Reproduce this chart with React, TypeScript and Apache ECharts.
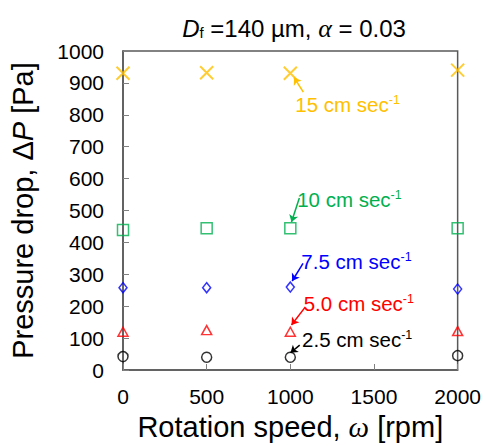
import React, { useEffect, useRef } from "react";
import * as echarts from "echarts";

const rpm = [0, 500, 1000, 2000];
const v15 = [930, 932, 930, 940];
const v10 = [439, 444, 444, 444];
const v75 = [258, 258, 260, 254];
const v50 = [120, 125, 120, 122];
const v25 = [42, 40, 40, 45];

const seriesNames = ["15 cm sec", "10 cm sec", "7.5 cm sec", "5.0 cm sec", "2.5 cm sec"];
const seriesColors = ["#FFC000", "#00B050", "#0000FF", "#FF0000", "#000000"];
// annotation label anchor (left-middle of text), arrow start and arrow end, in data units
const labelAt: [number, number][] = [[1030, 831], [1041, 536], [1066, 340], [1080, 207], [1070, 97]];
const arrowFrom: [number, number][] = [[1078, 871], [1054, 539], [1076, 334], [1090, 198], [1056, 78]];
const arrowTo: [number, number][] = [[1022, 917], [1007, 464], [1011, 279], [1007, 141], [1001, 54]];

const FONT = "'Liberation Sans', Arial, sans-serif";
const SERIF = "'Liberation Serif', 'Times New Roman', serif";

export default function App() {
  const ref = useRef<HTMLDivElement>(null);
  useEffect(() => {
    document.body.style.margin = "0";
    const chart = echarts.init(ref.current!, null, { renderer: "svg" });
    const values = [v15, v10, v75, v50, v25];
    const symbols: any[] = ["path://M0,0L10,10M10,0L0,10", "rect", "diamond", "triangle", "circle"];
    const sizes: any[] = [13, 11, [8, 10], [10, 9], 10];
    const series = values.map((vals, i) => ({
      type: "scatter",
      name: seriesNames[i],
      data: rpm.map((x, j) => [x, vals[j]]),
      symbol: symbols[i],
      symbolSize: sizes[i],
      itemStyle: { color: "rgba(0,0,0,0)", borderColor: seriesColors[i], borderWidth: i === 0 ? 2 : 1.5 },
      markLine: {
        silent: true,
        symbol: ["none", "arrow"],
        symbolSize: 7,
        label: { show: false },
        lineStyle: { color: seriesColors[i], width: 1.5, type: "solid" },
        data: [[{ coord: arrowFrom[i] }, { coord: arrowTo[i] }]],
      },
      markPoint: {
        silent: true,
        symbol: "circle",
        symbolSize: 0,
        itemStyle: { color: "rgba(0,0,0,0)" },
        label: {
          show: true,
          position: "right",
          distance: 0,
          color: seriesColors[i],
          formatter: "{a|" + seriesNames[i] + "}{s|-1}",
          rich: {
            a: { fontSize: 20.5, fontFamily: FONT, color: seriesColors[i] },
            s: { fontSize: 12.5, fontFamily: FONT, color: seriesColors[i], padding: [0, 0, 9, 0] },
          },
        },
        data: [{ coord: labelAt[i] }],
      },
    }));
    chart.setOption({
      animation: false,
      grid: { left: 121, right: 25, top: 51, bottom: 76, show: true, borderColor: "#595959", borderWidth: 1.5 },
      xAxis: {
        type: "value",
        min: 0,
        max: 2000,
        interval: 500,
        name: "Rotation speed, {w|ω} [rpm]",
        nameLocation: "middle",
        nameGap: 42,
        nameTextStyle: {
          fontSize: 29,
          fontFamily: FONT,
          color: "#000",
          rich: { w: { fontSize: 29, fontFamily: SERIF, fontStyle: "italic", color: "#000" } },
        },
        axisLine: { lineStyle: { color: "#595959", width: 1.5 } },
        axisTick: { inside: true, length: 6, lineStyle: { color: "#808080" } },
        axisLabel: { fontSize: 21, fontFamily: FONT, color: "#000", margin: 16, formatter: (v: number) => String(v) },
        splitLine: { show: false },
      },
      yAxis: {
        type: "value",
        min: 0,
        max: 1000,
        interval: 100,
        name: "Pressure drop, Δ{p|P} [Pa]",
        nameLocation: "middle",
        nameGap: 86,
        nameTextStyle: {
          fontSize: 29,
          fontFamily: FONT,
          color: "#000",
          rich: { p: { fontSize: 29, fontFamily: FONT, fontStyle: "italic", color: "#000" } },
        },
        axisLine: { show: true, lineStyle: { color: "#595959", width: 1.5 } },
        axisTick: { show: true, inside: true, length: 6, lineStyle: { color: "#808080" } },
        axisLabel: { fontSize: 21, fontFamily: FONT, color: "#000", margin: 19, formatter: (v: number) => String(v) },
        splitLine: { show: false },
      },
      graphic: [
        {
          type: "text",
          x: 294,
          y: 28,
          style: {
            text: "{d|D}{f|f} =140 µm, {al|α} = 0.03",
            fontSize: 24,
            fontFamily: FONT,
            fill: "#000",
            align: "center",
            verticalAlign: "middle",
            rich: {
              d: { fontSize: 24, fontFamily: FONT, fontStyle: "italic" },
              f: { fontSize: 15, fontFamily: FONT, padding: [8, 0, 0, 0] },
              al: { fontSize: 26, fontFamily: SERIF, fontStyle: "italic" },
            },
          },
        },
      ],
      series,
    });
    return () => chart.dispose();
  }, []);
  return <div ref={ref} style={{ width: 484, height: 446 }} />;
}
